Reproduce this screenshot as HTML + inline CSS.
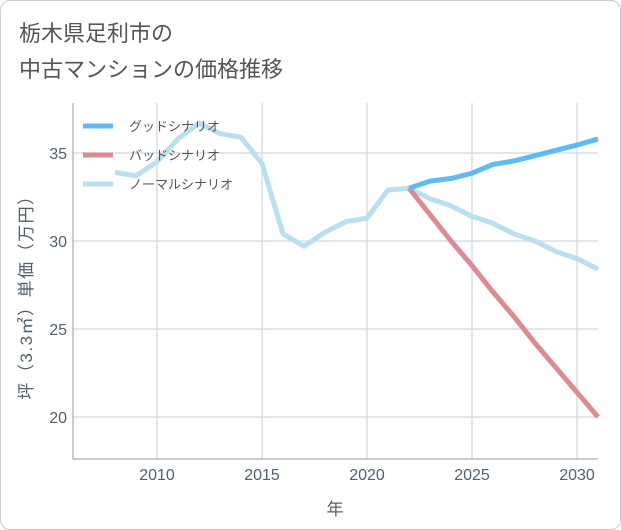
<!DOCTYPE html>
<html><head><meta charset="utf-8"><style>
body{margin:0;background:#fff;font-family:"Liberation Sans","Noto Sans CJK JP",sans-serif;}
#wrap{position:relative;width:619px;height:528px;border:1px solid #ccc;border-radius:10px;overflow:hidden;}
</style></head><body>
<div id="wrap">
<svg id="c" width="619" height="528"></svg>
</div>
<script>
const years=[2008,2009,2010,2011,2012,2013,2014,2015,2016,2017,2018,2019,2020,2021,2022,2023,2024,2025,2026,2027,2028,2029,2030,2031];
const normal=[33.9,33.7,34.5,35.8,36.7,36.1,35.9,34.4,30.4,29.7,30.5,31.1,31.3,32.9,33.0,32.4,32.0,31.4,31.0,30.4,30.0,29.4,29.0,28.4];
const goodYears=[2022,2023,2024,2025,2026,2027,2028,2029,2030,2031];
const good=[33.0,33.4,33.55,33.85,34.35,34.55,34.85,35.15,35.45,35.8];
const bad=[33.0,31.5,30.0,28.6,27.1,25.7,24.2,22.8,21.4,20.0];
const xTicks=[2010,2015,2020,2025,2030];
const yTicks=[20,25,30,35];
const NS="http://www.w3.org/2000/svg",svg=document.getElementById('c');
const L=72,R=597,T=102,B=458;
const x=v=>L+(v-2006)*(R-L)/25, y=v=>152+(35-v)*17.6;
function mk(t,a,p){const e=document.createElementNS(NS,t);for(const k in a)e.setAttribute(k,a[k]);(p||svg).appendChild(e);return e;}
const t1=mk('text',{x:18,y:40,'font-size':22,fill:'#555'});t1.textContent='栃木県足利市の';

const t2=mk('text',{x:18,y:76,'font-size':22,fill:'#555'});t2.textContent='中古マンションの価格推移';

xTicks.forEach(v=>{const g=mk('line',{x1:x(v),x2:x(v),y1:T,y2:B,stroke:'#d5dde6','stroke-width':1.5});

const t=mk('text',{x:x(v),y:479,'font-size':16,fill:'#506070','text-anchor':'middle'});t.textContent=v;
});
yTicks.forEach(v=>{const g=mk('line',{x1:L,x2:R,y1:y(v),y2:y(v),stroke:'#d5dde6','stroke-width':1.5});

const t=mk('text',{x:66,y:y(v)+6,'font-size':16,fill:'#506070','text-anchor':'end'});t.textContent=v;
});
const ax=mk('polyline',{points:`${L},${T} ${L},${B} ${R},${B}`,fill:'none',stroke:'#999','stroke-width':1});

const xt=mk('text',{x:334,y:514,'font-size':17,fill:'#506070','text-anchor':'middle'});xt.textContent='年';

const yt=mk('text',{x:0,y:0,'font-size':17,fill:'#506070','text-anchor':'middle','letter-spacing':'1.5',transform:'translate(31,292) rotate(-90)'});yt.textContent='坪（3.3㎡）単価（万円）';

function line(xs,vs,col,name){const p=mk('polyline',{points:xs.map((v,i)=>x(v)+','+y(vs[i])).join(' '),fill:'none',stroke:col,'stroke-width':5,'stroke-linejoin':'round'});
}
line(years,normal,'#badfee','normal-scenario-line');
line(goodYears,bad,'#de8a93','bad-scenario-line');
line(goodYears,good,'#5ebaf5','good-scenario-line');
[['グッドシナリオ','#5ebaf5'],['バッドシナリオ','#de8a93'],['ノーマルシナリオ','#badfee']].forEach((d,i)=>{
const yy=125+i*29;
const l=mk('line',{x1:82,x2:112,y1:yy,y2:yy,stroke:d[1],'stroke-width':5});

const t=mk('text',{x:128,y:yy+5,'font-size':13,fill:'#555'});t.textContent=d[0];
});
</script>
</body></html>
